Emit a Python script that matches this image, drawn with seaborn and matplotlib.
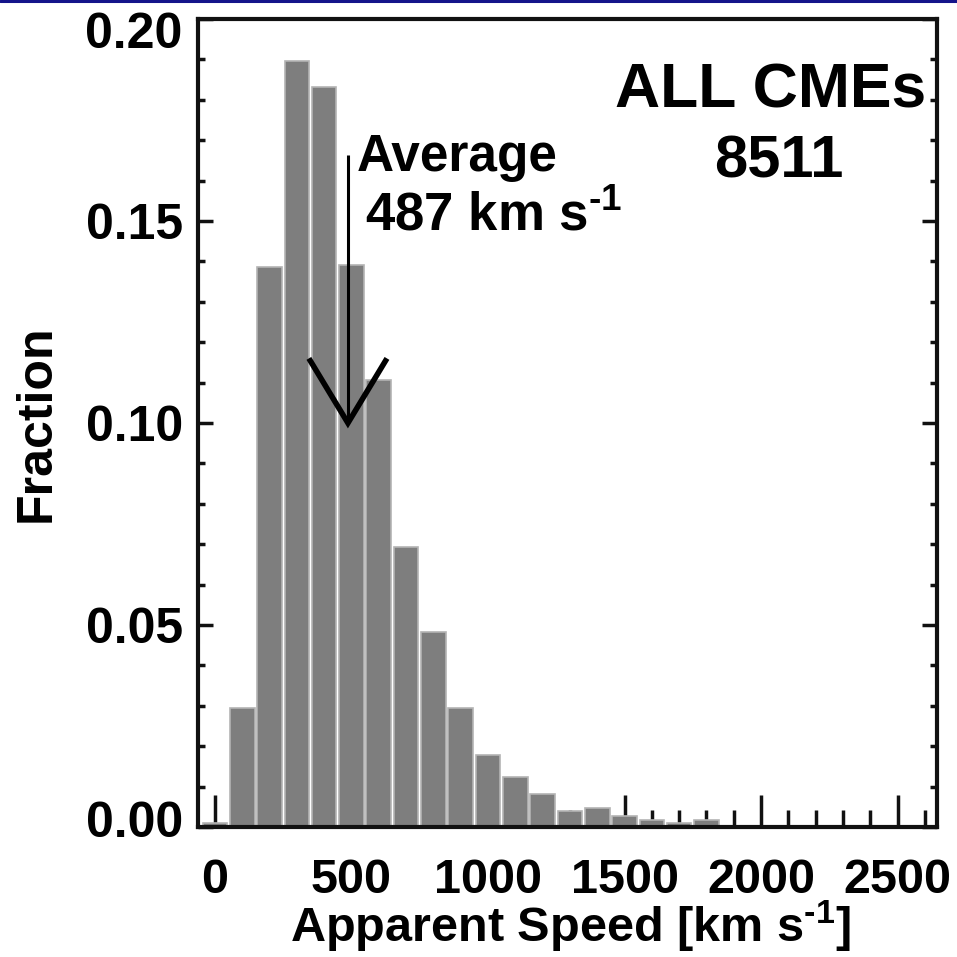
import matplotlib
matplotlib.use("Agg")
import matplotlib.pyplot as plt
from matplotlib.lines import Line2D
from matplotlib.transforms import ScaledTranslation
from matplotlib.ticker import MultipleLocator, FixedLocator, FixedFormatter
import pandas as pd
import seaborn as sns

# ---------------- data ----------------
speed_bins = [0, 100, 200, 300, 400, 500, 600, 700, 800, 900,
              1000, 1100, 1200, 1300, 1400, 1500, 1600, 1700, 1800]
fractions = [0.0010, 0.0294, 0.1386, 0.1895, 0.1833, 0.1391, 0.1106, 0.0692,
             0.0483, 0.0294, 0.0178, 0.0124, 0.0081, 0.0040, 0.0046, 0.0027,
             0.0017, 0.0010, 0.0018]
x_ticks = [0, 500, 1000, 1500, 2000, 2500]
x_tick_labels = ["0", "500", "1000", "1500", "2000", "2500"]
y_ticks = [0.00, 0.05, 0.10, 0.15, 0.20]
y_tick_labels = ["0.00", "0.05", "0.10", "0.15", "0.20"]
label_title = "ALL CMEs"
label_count = "8511"
avg_speed = 487
avg_label = "Average"
avg_value_label = r"487 km s$^{\text{-}1}$"
x_label = r"Apparent Speed [km s$^{\text{-}1}$]"
y_label = "Fraction"

df = pd.DataFrame({"speed": speed_bins, "fraction": fractions})

# ---------------- style ----------------
sns.set_theme(style="ticks")
plt.rcParams["font.family"] = ["Liberation Sans", "DejaVu Sans"]
plt.rcParams["font.weight"] = "bold"
plt.rcParams["text.color"] = "black"
plt.rcParams["axes.labelcolor"] = "black"
plt.rcParams["xtick.color"] = "black"
plt.rcParams["ytick.color"] = "black"
plt.rcParams["xtick.labelcolor"] = "black"
plt.rcParams["ytick.labelcolor"] = "black"
plt.rcParams["mathtext.fontset"] = "custom"
plt.rcParams["mathtext.rm"] = "Liberation Sans:bold"
plt.rcParams["mathtext.bf"] = "Liberation Sans:bold"
plt.rcParams["mathtext.it"] = "Liberation Sans:bold"
plt.rcParams["mathtext.default"] = "rm"

fig = plt.figure(figsize=(9.57, 9.57), dpi=100)
fig.patch.set_facecolor("white")
ax = fig.add_axes([0.2069, 0.1358, 0.7727, 0.8443])
ax.set_facecolor("white")

sns.barplot(data=df, x="speed", y="fraction", native_scale=True, width=0.9,
            color="#7e7e7e", saturation=1, edgecolor="#b4b4b4", linewidth=1.2,
            errorbar=None, ax=ax)

ax.set_xlim(-62, 2646)
ax.set_ylim(0, 0.2)

ax.xaxis.set_major_locator(FixedLocator(x_ticks))
ax.xaxis.set_major_formatter(FixedFormatter(x_tick_labels))
ax.xaxis.set_minor_locator(MultipleLocator(100))
ax.yaxis.set_major_locator(FixedLocator(y_ticks))
ax.yaxis.set_major_formatter(FixedFormatter(y_tick_labels))
ax.yaxis.set_minor_locator(MultipleLocator(0.01))

ax.tick_params(axis="x", which="major", direction="in", length=23, width=2.5,
               color="#111111", labelcolor="black", bottom=True, top=False,
               labelsize=35, pad=22)
ax.tick_params(axis="x", which="minor", direction="in", length=12, width=2.5,
               color="#111111", bottom=True, top=False)
ax.tick_params(axis="y", which="major", direction="in", length=11, width=2.5,
               color="#111111", labelcolor="black", left=True, right=True,
               labelsize=36, pad=11)
ax.tick_params(axis="y", which="minor", direction="in", length=5, width=2.5,
               color="#111111", left=True, right=True)

# the end labels of the y axis sit slightly inside the frame
yticks_major = ax.yaxis.get_major_ticks()
yticks_major[0].label1.set_transform(
    yticks_major[0].label1.get_transform()
    + ScaledTranslation(0, 6 / 72, fig.dpi_scale_trans))
yticks_major[-1].label1.set_transform(
    yticks_major[-1].label1.get_transform()
    + ScaledTranslation(0, -8 / 72, fig.dpi_scale_trans))

for s in ax.spines.values():
    s.set_visible(True)
    s.set_linewidth(3)
    s.set_color("#111111")

ax.set_xlabel(x_label, fontsize=35, fontweight="bold", color="black")
ax.xaxis.set_label_coords(0.503, -0.089)
ax.set_ylabel(y_label, fontsize=36, fontweight="bold", color="black")
ax.yaxis.set_label_coords(-0.1865, 0.5)

# annotations
ax.text(0.985, 0.891, label_title, transform=ax.transAxes, ha="right",
        va="baseline", fontsize=45, fontweight="bold", color="black")
ax.text(0.785, 0.8035, label_count, transform=ax.transAxes, ha="center",
        va="baseline", fontsize=43, fontweight="bold", color="black")
ax.text(0.215, 0.8115, avg_label, transform=ax.transAxes, ha="left",
        va="baseline", fontsize=37, fontweight="bold", color="black")
ax.text(0.226, 0.739, avg_value_label, transform=ax.transAxes, ha="left",
        va="baseline", fontsize=38, fontweight="bold", color="black")

# arrow marking the average speed
arrow_top = 0.1663
arrow_tip = 0.1000
wing_dx = 143
wing_y = 0.1160
ax.plot([avg_speed, avg_speed], [arrow_top, arrow_tip], color="black",
        lw=2.2, solid_capstyle="butt", zorder=5)
ax.plot([avg_speed - wing_dx, avg_speed, avg_speed + wing_dx],
        [wing_y, arrow_tip, wing_y], color="black", lw=4.0,
        solid_joinstyle="miter", solid_capstyle="butt", zorder=5)

# thin navy rule at the top edge of the image
fig.add_artist(Line2D([0, 1], [0.9985, 0.9985], transform=fig.transFigure,
                      color="#14148a", lw=2.2))

fig.savefig("out.png", dpi=100, facecolor="white")
